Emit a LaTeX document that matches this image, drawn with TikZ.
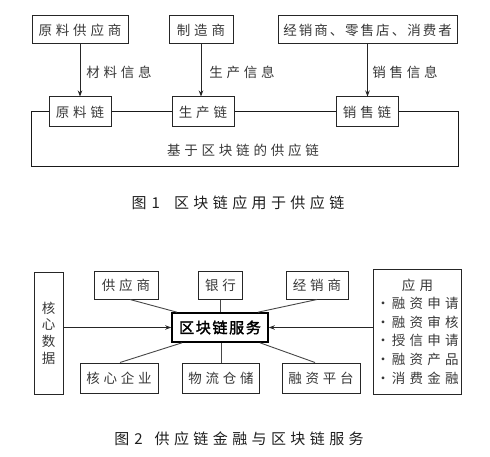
\documentclass[tikz,border=0pt]{standalone}
\usepackage{fontspec}
\newfontfamily\cjk{Noto Sans CJK SC}
\newfontfamily\cjkh[AutoFakeBold=2]{Noto Sans CJK SC}
\usetikzlibrary{arrows.meta}
% inter-character spacing for CJK ideographs
\newdimen\cjkgap \cjkgap=0pt
\newcommand{\setgap}[1]{\cjkgap=#1\relax}
\XeTeXinterchartokenstate=1
\newcount\cjkcnt
\cjkcnt="4E00
\loop
  \XeTeXcharclass\cjkcnt=1
  \advance\cjkcnt by 1
\ifnum\cjkcnt<"A000 \repeat
\XeTeXcharclass"3001=1
\XeTeXinterchartoks 1 1 = {\kern\cjkgap}
\tikzset{
  box/.style={draw=black!85, line width=1bp, minimum height=28bp, inner sep=0pt,
    text=black!78, font={\cjk\fontsize{13.5bp}{15bp}\selectfont\setgap{3.8bp}}},
  lbl/.style={inner sep=0pt, text=black!78, font={\cjk\fontsize{13.5bp}{15bp}\selectfont\setgap{3.8bp}}},
  captext/.style={inner sep=0pt, text=black!88, font={\cjk\fontsize{15bp}{17bp}\selectfont\setgap{4.4bp}}},
  hub/.style={draw=black, line width=1.6bp, minimum width=96bp, minimum height=29bp,
    inner sep=0pt, text=black, font={\cjkh\bfseries\fontsize{15bp}{17bp}\selectfont\setgap{1.7bp}}},
  conn/.style={draw=black!72, line width=0.9bp},
  frameline/.style={draw=black!90, line width=1bp},
  arr/.style={draw=black!85, line width=1bp, -{Stealth[length=6bp,width=4.5bp]}}
}
\newcommand{\dotitem}{·\kern2bp}
\begin{document}
\begin{tikzpicture}[x=1bp,y=-1bp]
\useasboundingbox[fill=white] (0,0) rectangle (490,457);
% ---------- Figure 1 ----------
\node[box, minimum width=96bp] (s1) at (80,30) {原料供应商};
\node[box, minimum width=64bp] (s2) at (201,30) {制造商};
\node[box, minimum width=179bp, font={\cjk\fontsize{13.5bp}{15bp}\selectfont\setgap{2bp}}] (s3) at (367.5,30) {经销商、零售店、消费者};
\node[box, minimum width=62bp, minimum height=30bp] (c1) at (80,112) {原料链};
\node[box, minimum width=62bp, minimum height=30bp] (c2) at (203,112) {生产链};
\node[box, minimum width=62bp, minimum height=30bp] (c3) at (367,112) {销售链};
\draw[arr] (s1.south) -- (c1.north);
\draw[arr] (s2.south) -- (s2.south |- c2.north);
\draw[arr] (s3.south) -- (s3.south |- c3.north);
\node[lbl] (l1) at (119,72) {材料信息};
\node[lbl] (l2) at (242,72) {生产信息};
\node[lbl] (l3) at (405,72) {销售信息};
\coordinate (ftl) at (31,112);
\coordinate (fbr) at (458,167);
\draw[frameline] (c1.west) -- (ftl) |- (fbr) -- (fbr |- c3.east) -- (c3.east);
\draw[frameline] (c1.east) -- (c2.west);
\draw[frameline] (c2.east) -- (c3.west);
\node[lbl] (t1) at (243,150) {基于区块链的供应链};
\node[captext] (cap1) at (238,203) {图\kern5bp 1\hspace{14bp}区块链应用于供应链};
% ---------- Figure 2 ----------
\node[box, minimum width=29bp, minimum height=122bp, align=center,
  font={\cjk\fontsize{13.5bp}{16.7bp}\selectfont\setgap{0pt}}] (kd) at (48.5,333) {核\\心\\数\\据};
\node[box, minimum width=64bp] (g) at (126,285) {供应商};
\node[box, minimum width=44bp] (yh) at (220.5,285) {银行};
\node[box, minimum width=62bp] (j) at (317,285) {经销商};
\node[box, minimum width=88bp, minimum height=125bp, align=center,
  font={\cjk\fontsize{13.5bp}{18.6bp}\selectfont\setgap{4.2bp}}] (app) at (417.5,331.5)
  {应用\\\dotitem 融资申请\\\dotitem 融资审核\\\dotitem 授信申请\\\dotitem 融资产品\\\dotitem 消费金融};
\node[hub] (b) at (220,327.5) {区块链服务};
\node[box, minimum width=78bp, minimum height=30bp] (h) at (119,378) {核心企业};
\node[box, minimum width=77bp, minimum height=30bp] (w) at (221,378) {物流仓储};
\node[box, minimum width=78bp, minimum height=30bp] (r) at (321,378) {融资平台};
\draw[conn] ([xshift=4bp]g.south) -- ([xshift=-43bp]b.north);
\draw[conn] (yh.south) -- (yh.south |- b.north);
\draw[conn] (j.south) -- ([xshift=38bp]b.north);
\draw[conn] ([xshift=1bp]h.north) -- ([xshift=-38bp]b.south);
\draw[conn] (w.north) -- (w.north |- b.south);
\draw[conn] ([xshift=-6bp]r.north) -- ([xshift=40bp]b.south);
\draw[arr] (kd.east |- b.west) -- (b.west);
\draw[arr] (app.west |- b.east) -- (b.east);
\node[captext] (cap2) at (239,439) {图\kern5bp 2\hspace{12bp}供应链金融与区块链服务};
\end{tikzpicture}
\end{document}
